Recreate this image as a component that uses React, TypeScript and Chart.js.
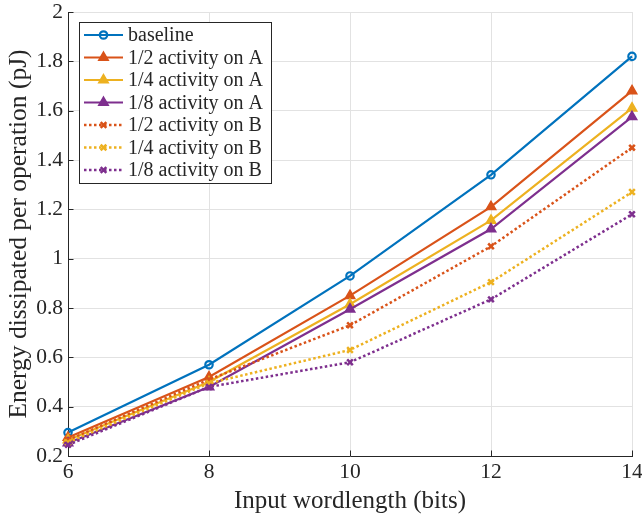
import React, { useEffect, useRef } from "react";
import { Chart, registerables } from "chart.js";

Chart.register(...registerables);

// ---------- data ----------
const wordlengths = [6, 8, 10, 12, 14];
const baseline = [0.295, 0.57, 0.93, 1.34, 1.82];
const halfA = [0.275, 0.52, 0.85, 1.21, 1.68];
const quarterA = [0.265, 0.5, 0.815, 1.155, 1.61];
const eighthA = [0.253, 0.48, 0.795, 1.12, 1.575];
const halfB = [0.265, 0.51, 0.73, 1.05, 1.45];
const quarterB = [0.255, 0.495, 0.63, 0.905, 1.27];
const eighthB = [0.245, 0.48, 0.58, 0.835, 1.18];

const seriesLabels = [
  "baseline",
  "1/2 activity on A",
  "1/4 activity on A",
  "1/8 activity on A",
  "1/2 activity on B",
  "1/4 activity on B",
  "1/8 activity on B",
];
const xTickValues = [6, 8, 10, 12, 14];
const yTickValues = [0.2, 0.4, 0.6, 0.8, 1, 1.2, 1.4, 1.6, 1.8, 2];
const xTitle = "Input wordlength (bits)";
const yTitle = "Energy dissipated per operation (pJ)";

// ---------- styles ----------
const FONT = "'Liberation Serif', 'DejaVu Serif', serif";
const BLUE = "#0072BD";
const ORANGE = "#D95319";
const YELLOW = "#EDB120";
const PURPLE = "#7E2F8E";
const AXIS = "#262626";
const GRID = "#e2e2e2";
const DOT = [2.5, 2.5];

const toPoints = (ys: number[]) => wordlengths.map((x, i) => ({ x, y: ys[i] }));

type Style = { color: string; marker: string; dashed: boolean };
const styles: Style[] = [
  { color: BLUE, marker: "circle", dashed: false },
  { color: ORANGE, marker: "triangle", dashed: false },
  { color: YELLOW, marker: "triangle", dashed: false },
  { color: PURPLE, marker: "triangle", dashed: false },
  { color: ORANGE, marker: "crossRot", dashed: true },
  { color: YELLOW, marker: "crossRot", dashed: true },
  { color: PURPLE, marker: "crossRot", dashed: true },
];
const allSeries = [baseline, halfA, quarterA, eighthA, halfB, quarterB, eighthB];

function markerProps(s: Style) {
  if (s.marker === "circle")
    return { pointStyle: "circle", pointRadius: 3.7, pointBorderWidth: 2.2, pointBackgroundColor: "rgba(0,0,0,0)" };
  if (s.marker === "triangle")
    return { pointStyle: "triangle", pointRadius: 5.5, pointBorderWidth: 1.5, pointBackgroundColor: s.color };
  return { pointStyle: "crossRot", pointRadius: 4, pointBorderWidth: 2.5, pointBackgroundColor: s.color };
}

function drawMarker(ctx: CanvasRenderingContext2D, s: Style, x: number, y: number) {
  const m: any = markerProps(s);
  const r = m.pointRadius;
  ctx.save();
  ctx.setLineDash([]);
  ctx.strokeStyle = s.color;
  ctx.fillStyle = m.pointBackgroundColor;
  ctx.lineWidth = m.pointBorderWidth;
  ctx.beginPath();
  if (s.marker === "circle") {
    ctx.arc(x, y, r, 0, Math.PI * 2);
    ctx.stroke();
  } else if (s.marker === "triangle") {
    let a = 0;
    ctx.moveTo(x + Math.sin(a) * r, y - Math.cos(a) * r);
    a += (2 * Math.PI) / 3;
    ctx.lineTo(x + Math.sin(a) * r, y - Math.cos(a) * r);
    a += (2 * Math.PI) / 3;
    ctx.lineTo(x + Math.sin(a) * r, y - Math.cos(a) * r);
    ctx.closePath();
    ctx.fill();
    ctx.stroke();
  } else {
    const o = Math.cos(Math.PI / 4) * r;
    ctx.moveTo(x - o, y - o);
    ctx.lineTo(x + o, y + o);
    ctx.moveTo(x + o, y - o);
    ctx.lineTo(x - o, y + o);
    ctx.stroke();
  }
  ctx.restore();
}

const insideLegend = {
  id: "insideLegend",
  afterDraw(chart: any) {
    const ctx: CanvasRenderingContext2D = chart.ctx;
    const boxX = 79.5, boxY = 22.5, boxW = 192, boxH = 161;
    const rowH = 22.5;
    ctx.save();
    ctx.fillStyle = "#ffffff";
    ctx.fillRect(boxX, boxY, boxW, boxH);
    ctx.strokeStyle = AXIS;
    ctx.lineWidth = 1;
    ctx.strokeRect(boxX, boxY, boxW, boxH);
    ctx.font = `20px ${FONT}`;
    ctx.textBaseline = "middle";
    ctx.textAlign = "left";
    seriesLabels.forEach((label, i) => {
      const s = styles[i];
      const y = 35 + i * rowH;
      ctx.save();
      ctx.strokeStyle = s.color;
      ctx.lineWidth = s.dashed ? 2.5 : 2.2;
      ctx.setLineDash(s.dashed ? DOT : []);
      ctx.beginPath();
      ctx.moveTo(84, y);
      ctx.lineTo(123, y);
      ctx.stroke();
      ctx.restore();
      drawMarker(ctx, s, 103.5, y);
      ctx.fillStyle = AXIS;
      ctx.fillText(label, 128, y + 1);
    });
    ctx.restore();
  },
};

const inwardTicks = {
  id: "inwardTicks",
  afterDatasetsDraw(chart: any) {
    const ctx: CanvasRenderingContext2D = chart.ctx;
    const { left, bottom } = chart.chartArea;
    const xs = chart.scales.x;
    const ys = chart.scales.y;
    ctx.save();
    ctx.strokeStyle = AXIS;
    ctx.lineWidth = 1;
    ctx.beginPath();
    ys.ticks.forEach((t: any) => {
      const py = Math.round(ys.getPixelForValue(t.value)) + 0.5;
      ctx.moveTo(left, py);
      ctx.lineTo(left + 5.5, py);
    });
    xs.ticks.forEach((t: any) => {
      const px = Math.round(xs.getPixelForValue(t.value)) + 0.5;
      ctx.moveTo(px, bottom);
      ctx.lineTo(px, bottom - 5.5);
    });
    ctx.stroke();
    ctx.restore();
  },
};

export default function App() {
  const ref = useRef<HTMLCanvasElement | null>(null);
  useEffect(() => {
    document.body.style.margin = "0";
    const canvas = ref.current;
    if (!canvas) return;
    const datasets = allSeries.map((ys, i) => {
      const s = styles[i];
      return {
        label: seriesLabels[i],
        data: toPoints(ys),
        borderColor: s.color,
        backgroundColor: s.color,
        borderWidth: s.dashed ? 2.5 : 2.2,
        borderDash: s.dashed ? DOT : [],
        pointBorderColor: s.color,
        ...markerProps(s),
        tension: 0,
        clip: false as any,
        order: 7 - i,
      };
    });
    const chart = new Chart(canvas, {
      type: "line",
      data: { datasets: datasets as any },
      plugins: [inwardTicks, insideLegend],
      options: {
        animation: false,
        responsive: false,
        layout: { padding: { top: 12, right: 10, left: 0, bottom: 0 } },
        plugins: { legend: { display: false }, tooltip: { enabled: false } },
        scales: {
          x: {
            type: "linear",
            min: 6,
            max: 14,
            afterBuildTicks: (scale: any) => {
              scale.ticks = xTickValues.map((v) => ({ value: v }));
            },
            afterFit: (scale: any) => {
              scale.height = 60;
              scale.paddingLeft = 0;
              scale.paddingRight = 0;
            },
            grid: { color: GRID, drawTicks: false, lineWidth: 1 },
            border: { color: AXIS, width: 1 },
            ticks: {
              color: AXIS,
              font: { family: FONT, size: 21.5 },
              padding: 3,
              maxRotation: 0,
              callback: (v: any) => String(v),
            },
            title: {
              display: true,
              text: xTitle,
              color: AXIS,
              font: { family: FONT, size: 25 },
              padding: { top: 10, bottom: 0 },
            },
          },
          y: {
            type: "linear",
            min: 0.2,
            max: 2,
            afterBuildTicks: (scale: any) => {
              scale.ticks = yTickValues.map((v) => ({ value: v }));
            },
            afterFit: (scale: any) => {
              scale.width = 68;
              scale.paddingTop = 0;
              scale.paddingBottom = 0;
            },
            grid: { color: GRID, drawTicks: false, lineWidth: 1 },
            border: { color: AXIS, width: 1 },
            ticks: {
              color: AXIS,
              font: { family: FONT, size: 21.5 },
              padding: 5,
              callback: (v: any) => String(Math.round(Number(v) * 10) / 10),
            },
            title: {
              display: true,
              text: yTitle,
              color: AXIS,
              font: { family: FONT, size: 25.5 },
              padding: { top: 4, bottom: 0 },
            },
          },
        },
      },
    });
    return () => chart.destroy();
  }, []);
  return (
    <div style={{ width: 642, height: 516 }}>
      <canvas ref={ref} width={642} height={516} style={{ display: "block" }} />
    </div>
  );
}
